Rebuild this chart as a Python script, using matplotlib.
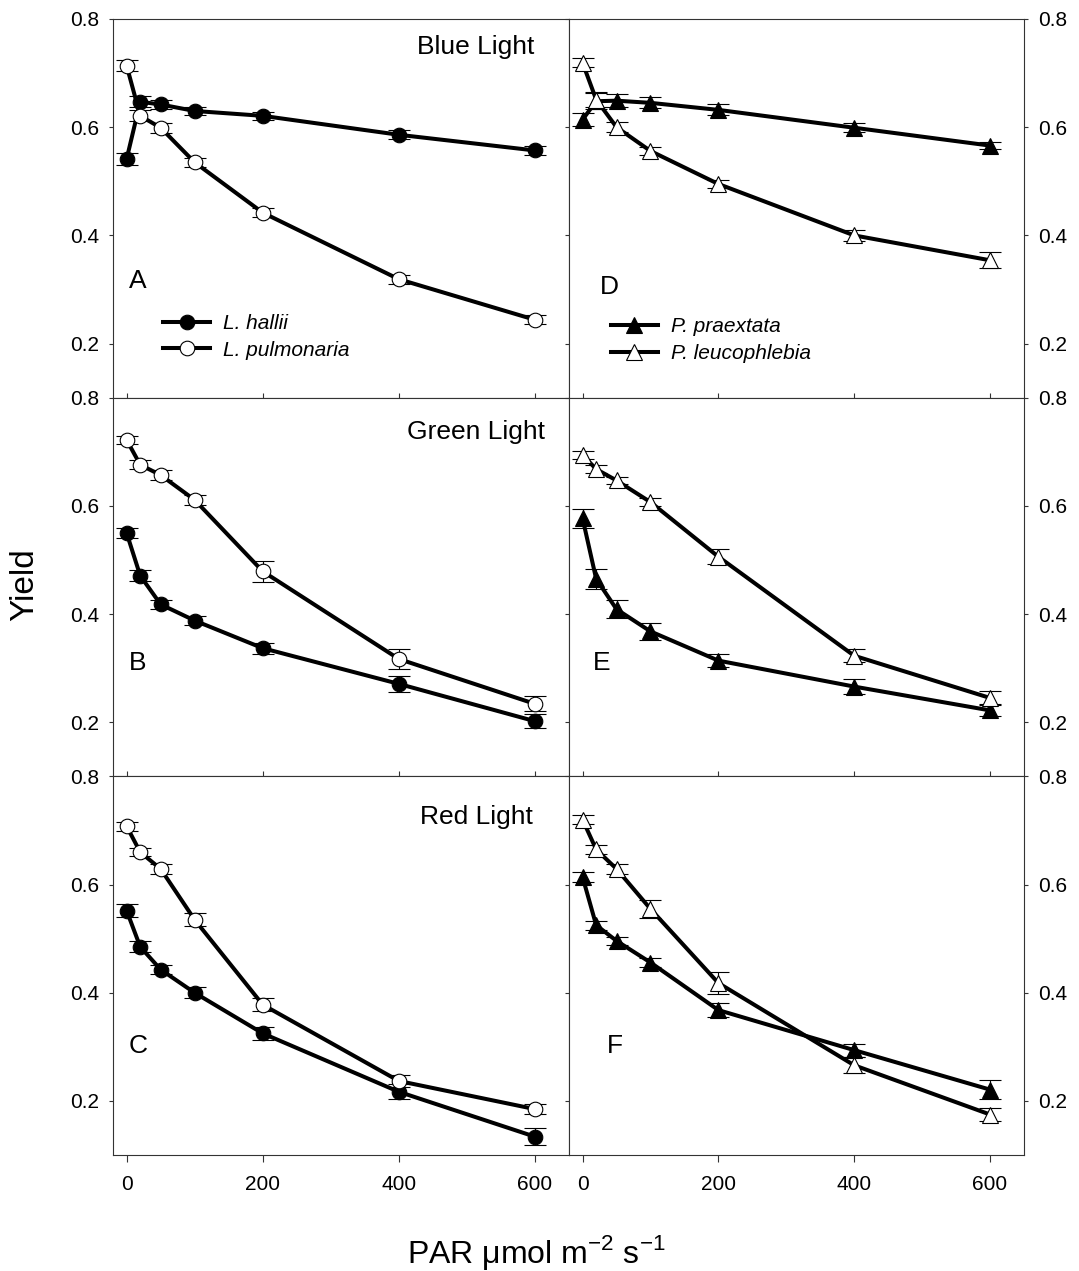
import matplotlib
matplotlib.use("Agg")
import matplotlib.pyplot as plt

plt.rcParams["font.family"] = ["Liberation Sans", "DejaVu Sans"]
plt.rcParams["mathtext.fontset"] = "custom"
plt.rcParams["mathtext.rm"] = "Liberation Sans"

# PAR levels (umol m-2 s-1)
par = [0, 20, 50, 100, 200, 400, 600]

# Lobaria (left column): blue, green, red
hallii_blue = [0.541, 0.647, 0.642, 0.630, 0.621, 0.586, 0.557]
hallii_blue_err = [0.011, 0.010, 0.008, 0.008, 0.007, 0.008, 0.008]
pulm_blue = [0.714, 0.621, 0.599, 0.535, 0.442, 0.319, 0.244]
pulm_blue_err = [0.010, 0.010, 0.009, 0.008, 0.008, 0.008, 0.008]

hallii_green = [0.550, 0.471, 0.418, 0.388, 0.337, 0.271, 0.202]
hallii_green_err = [0.010, 0.010, 0.008, 0.008, 0.010, 0.015, 0.013]
pulm_green = [0.722, 0.676, 0.657, 0.611, 0.479, 0.317, 0.234]
pulm_green_err = [0.007, 0.008, 0.009, 0.010, 0.020, 0.018, 0.014]

hallii_red = [0.552, 0.485, 0.443, 0.400, 0.325, 0.217, 0.134]
hallii_red_err = [0.012, 0.010, 0.008, 0.010, 0.012, 0.014, 0.016]
pulm_red = [0.708, 0.660, 0.629, 0.535, 0.378, 0.237, 0.185]
pulm_red_err = [0.008, 0.008, 0.009, 0.012, 0.012, 0.011, 0.009]

# Pseudocyphellaria (right column): blue, green, red
praex_blue = [0.614, 0.648, 0.649, 0.645, 0.632, 0.599, 0.566]
praex_blue_err = [0.012, 0.015, 0.012, 0.010, 0.010, 0.008, 0.007]
leuco_blue = [0.719, 0.651, 0.600, 0.556, 0.495, 0.400, 0.354]
leuco_blue_err = [0.008, 0.014, 0.009, 0.007, 0.008, 0.010, 0.015]

praex_green = [0.577, 0.465, 0.409, 0.368, 0.314, 0.266, 0.222]
praex_green_err = [0.018, 0.018, 0.017, 0.015, 0.012, 0.014, 0.010]
leuco_green = [0.694, 0.668, 0.647, 0.607, 0.506, 0.323, 0.245]
leuco_green_err = [0.008, 0.008, 0.007, 0.008, 0.014, 0.012, 0.012]

praex_red = [0.614, 0.525, 0.496, 0.456, 0.368, 0.294, 0.221]
praex_red_err = [0.009, 0.008, 0.007, 0.008, 0.013, 0.012, 0.018]
leuco_red = [0.720, 0.665, 0.629, 0.555, 0.418, 0.266, 0.175]
leuco_red_err = [0.008, 0.008, 0.009, 0.017, 0.020, 0.015, 0.012]

row_titles = ["Blue Light", "Green Light", "Red Light"]
left_letters = ["A", "B", "C"]
right_letters = ["D", "E", "F"]
left_names = ["L. hallii", "L. pulmonaria"]
right_names = ["P. praextata", "P. leucophlebia"]
yticks = [0.2, 0.4, 0.6, 0.8]
xticks = [0, 200, 400, 600]

W, H = 1079, 1271
fig = plt.figure(figsize=(W / 100, H / 100), dpi=100)

x_left, x_mid, x_right = 113, 569, 1024
y_top, panel_h = 19, 378.7


def add_panel(col, row):
    x0 = x_left if col == 0 else x_mid
    x1 = x_mid if col == 0 else x_right
    top = y_top + row * panel_h
    rect = [x0 / W, 1 - (top + panel_h) / H, (x1 - x0) / W, panel_h / H]
    return fig.add_axes(rect)


def draw_series(ax, y, err, marker, face, ms):
    ax.errorbar(par, y, yerr=err, fmt="none", ecolor="black", elinewidth=0.8,
                capsize=8, capthick=0.8, zorder=2)
    line, = ax.plot(par, y, color="black", lw=2.9, marker=marker, ms=ms,
                    mfc=face, mec="black", mew=0.8, zorder=3)
    return line


left_data = [
    (hallii_blue, hallii_blue_err, pulm_blue, pulm_blue_err),
    (hallii_green, hallii_green_err, pulm_green, pulm_green_err),
    (hallii_red, hallii_red_err, pulm_red, pulm_red_err),
]
right_data = [
    (praex_blue, praex_blue_err, leuco_blue, leuco_blue_err),
    (praex_green, praex_green_err, leuco_green, leuco_green_err),
    (praex_red, praex_red_err, leuco_red, leuco_red_err),
]
title_y = [0.925, 0.910, 0.894]
letter_y = [0.308, 0.300, 0.287]
right_letter_x = [0.088, 0.072, 0.100]

for row in range(3):
    for col in range(2):
        ax = add_panel(col, row)
        data = left_data[row] if col == 0 else right_data[row]
        marker = "o" if col == 0 else "^"
        ms = 10.5 if col == 0 else 11
        l1 = draw_series(ax, data[0], data[1], marker, "black", ms)
        l2 = draw_series(ax, data[2], data[3], marker, "white", ms)

        ax.set_xlim(-20, 650)
        ax.set_ylim(0.1, 0.8)
        ax.set_xticks(xticks)
        ax.set_yticks(yticks)
        for s in ax.spines.values():
            s.set_linewidth(0.8)
            s.set_color("#333333")

        last = row == 2
        ax.tick_params(axis="x", direction="out" if last else "inout",
                       length=5 if last else 7, width=0.8, color="#333333",
                       labelbottom=last, labelsize=15, pad=9)
        if col == 0:
            ax.tick_params(axis="y", direction="out", length=3.2, width=0.8,
                           color="#333333", labelsize=15, pad=7)
        else:
            ax.tick_params(axis="y", direction="out", length=3.2, width=0.8,
                           color="#333333", labelsize=15, pad=7,
                           left=True, right=True, labelleft=False,
                           labelright=True)
        ax.set_yticklabels([f"{v:.1f}" for v in yticks])

        if col == 0:
            ax.text(0.796, title_y[row], row_titles[row], transform=ax.transAxes,
                    ha="center", va="center", fontsize=19)
            ax.text(0.055, letter_y[row], left_letters[row],
                    transform=ax.transAxes, ha="center", va="center",
                    fontsize=19)
        else:
            ax.text(right_letter_x[row], letter_y[row] - (0.016 if row == 0 else 0),
                    right_letters[row], transform=ax.transAxes, ha="center",
                    va="center", fontsize=19)

        if row == 0:
            names = left_names if col == 0 else right_names
            anchor = (0.11, 0.221) if col == 0 else (0.092, 0.212)
            ax.legend([l1, l2], names, loc="upper left", bbox_to_anchor=anchor,
                      frameon=False, borderpad=0, borderaxespad=0,
                      handlelength=2.26, handletextpad=0.62, labelspacing=0.36,
                      numpoints=1, prop={"style": "italic", "size": 15})

fig.text(0.023, 0.54, "Yield", rotation=90, ha="center", va="center",
         fontsize=24)
fig.text(0.497, 0.0063, "PAR \u03bcmol m$^{-2}$ s$^{-1}$", ha="center",
         va="baseline", fontsize=23)

fig.savefig("out.png", dpi=100, facecolor="white")
